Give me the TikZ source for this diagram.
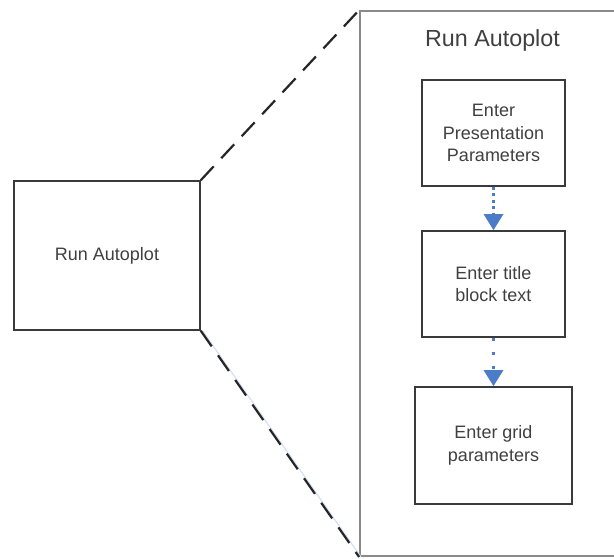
\documentclass[tikz,border=0pt]{standalone}
\usepackage{fontspec}
\setmainfont{Liberation Sans}
\usetikzlibrary{arrows.meta}
\definecolor{boxline}{HTML}{3A3A3A}
\definecolor{frameline}{HTML}{8A8A8A}
\definecolor{txt}{HTML}{404040}
\definecolor{flow}{HTML}{4A7CC7}
\definecolor{shadowblue}{HTML}{D3E2F5}
\tikzset{
  stepbox/.style={draw=boxline, line width=1.6pt, fill=white, align=center, text=txt,
    font=\fontsize{18}{22.5}\selectfont, inner sep=0pt},
  framebox/.style={draw=frameline, line width=1.8pt, inner sep=0pt},
  zoomline/.style={draw=black!85, line width=2.2pt, dash pattern=on 19pt off 11pt},
  flowA/.style={draw=flow, line width=2.6pt, dash pattern=on 3pt off 3.5pt,
    -{Triangle[width=19pt,length=16pt,fill=flow]}},
  flowB/.style={draw=flow, line width=2.6pt, dash pattern=on 3pt off 11pt,
    -{Triangle[width=19pt,length=16pt,fill=flow]}},
}
\begin{document}
\begin{tikzpicture}[x=1pt,y=-1pt]
\useasboundingbox (0,0) rectangle (614,558);
\clip (0,0) rectangle (614,558);
\fill[white] (0,0) rectangle (614,558);
% big frame
\node[framebox, minimum width=262pt, minimum height=545pt] (frame) at (491,283.5) {};
% left box
\node[stepbox, minimum width=186pt, minimum height=149pt] (run) at (107,255.5) {Run Autoplot};
% zoom lines
\draw[shadowblue, line width=1.2pt] ([xshift=1.8pt]run.south east) -- ([xshift=1.8pt]frame.south west);
\draw[zoomline] (run.north east) -- (frame.north west);
\draw[zoomline] (run.south east) -- (frame.south west);
% title
\node[anchor=base, text=txt, font=\fontsize{23.3}{27}\selectfont, inner sep=0pt] (title) at (492.5,46) {Run Autoplot};
% steps
\node[stepbox, minimum width=143pt, minimum height=106pt] (s1) at (493.5,133) {Enter\\Presentation\\Parameters};
\node[stepbox, minimum width=143pt, minimum height=106pt] (s2) at (493.5,284) {Enter title\\block text};
\node[stepbox, minimum width=157pt, minimum height=117pt] (s3) at (493.5,445.5) {Enter grid\\parameters};
\draw[flowA] (s1.south) -- (s2.north);
\draw[flowB] (s2.south) -- (s3.north);
\end{tikzpicture}
\end{document}
